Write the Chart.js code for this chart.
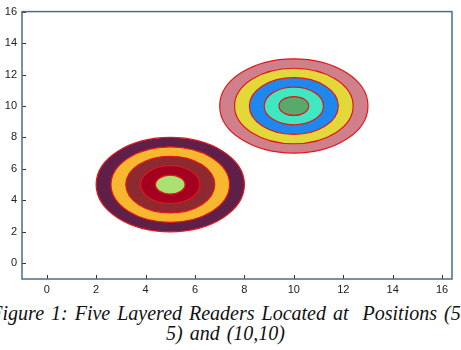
<!DOCTYPE html>
<html><head><meta charset="utf-8">
<script src="https://cdn.jsdelivr.net/npm/chart.js@4/dist/chart.umd.min.js"></script>
<style>
html,body{margin:0;padding:0;background:#fff;width:461px;height:350px;overflow:hidden;position:relative}
#wrap{position:absolute;left:0;top:0;width:461px;height:300px}
#cap{position:absolute;left:-60px;width:571px;top:303px;text-align:center;font-family:"Liberation Serif",serif;font-style:italic;font-size:20px;line-height:20px;word-spacing:2px;color:#111;white-space:nowrap}
</style></head><body>
<div id="wrap"><canvas id="c" width="461" height="300"></canvas></div>
<div id="cap">Figure 1: Five Layered Readers Located at&nbsp; Positions (5<br>5) and (10,10)</div>
<script>
// ---- data ----
const readerNames = ['Reader 1', 'Reader 2'];
const centerX = [5, 10];
const centerY = [5, 10];
const layerRadii = [3, 2.4, 1.8, 1.2, 0.6];
const tickValues = [0, 2, 4, 6, 8, 10, 12, 14, 16];
const tickLabels = ['0', '2', '4', '6', '8', '10', '12', '14', '16'];

// ---- styles ----
const layerColors = [
  ['#5e1f48', '#f7b82f', '#8c2a30', '#a30021', '#a9e272'],
  ['#d0808a', '#e2d83a', '#1f88ee', '#40e8c2', '#58aa6c']
];
const outlineColor = '#e3161c';
const frameColor = '#4b6b8b';

const ringsPlugin = {
  id: 'rings',
  beforeDatasetsDraw(chart) {
    const ctx = chart.ctx, xs = chart.scales.x, ys = chart.scales.y, a = chart.chartArea;
    ctx.save();
    ctx.beginPath(); ctx.rect(a.left, a.top, a.right - a.left, a.bottom - a.top); ctx.clip();
    chart.data.datasets.forEach((ds, i) => {
      const p = ds.data[0];
      const cx = xs.getPixelForValue(p.x), cy = ys.getPixelForValue(p.y);
      layerRadii.forEach((r, k) => {
        const rx = Math.abs(xs.getPixelForValue(p.x + r) - cx);
        const ry = Math.abs(ys.getPixelForValue(p.y + r) - cy);
        ctx.beginPath();
        ctx.ellipse(cx, cy, rx, ry, 0, 0, Math.PI * 2);
        ctx.fillStyle = layerColors[i][k];
        ctx.fill();
        ctx.lineWidth = 1.2;
        ctx.strokeStyle = outlineColor;
        ctx.stroke();
      });
    });
    ctx.restore();
  },
  afterDraw(chart) {
    const ctx = chart.ctx, xs = chart.scales.x, ys = chart.scales.y, a = chart.chartArea;
    ctx.save();
    ctx.strokeStyle = '#333';
    ctx.lineWidth = 1;
    xs.ticks.forEach(t => {
      const px = Math.round(xs.getPixelForValue(t.value)) + 0.5;
      ctx.beginPath(); ctx.moveTo(px, a.bottom); ctx.lineTo(px, a.bottom - 4); ctx.stroke();
    });
    ys.ticks.forEach(t => {
      const py = Math.round(ys.getPixelForValue(t.value)) + 0.5;
      ctx.beginPath(); ctx.moveTo(a.left, py); ctx.lineTo(a.left + 4, py); ctx.stroke();
    });
    ctx.strokeStyle = frameColor;
    ctx.lineWidth = 1.5;
    ctx.strokeRect(a.left, a.top, a.right - a.left, a.bottom - a.top);
    ctx.restore();
  }
};

const tickFont = { family: '"Liberation Sans", Arial, sans-serif', size: 11 };

new Chart(document.getElementById('c'), {
  type: 'scatter',
  data: {
    datasets: readerNames.map((n, i) => ({
      label: n,
      data: [{ x: centerX[i], y: centerY[i] }],
      pointRadius: 0,
      pointHoverRadius: 0
    }))
  },
  options: {
    responsive: false,
    devicePixelRatio: 1,
    animation: false,
    events: [],
    layout: { padding: { top: 9, right: 9, left: 0, bottom: 0 } },
    plugins: { legend: { display: false }, tooltip: { enabled: false }, title: { display: false } },
    scales: {
      x: {
        type: 'linear', min: -1, max: 16.4,
        afterBuildTicks: s => { s.ticks = tickValues.map(v => ({ value: v })); },
        afterFit: s => { s.height = 21; },
        ticks: { callback: v => tickLabels[tickValues.indexOf(v)], font: tickFont, color: '#222', padding: 4, maxRotation: 0, autoSkip: false },
        grid: { display: false, drawTicks: false, tickLength: 0 },
        border: { display: false }
      },
      y: {
        type: 'linear', min: -1, max: 16,
        afterBuildTicks: s => { s.ticks = tickValues.map(v => ({ value: v })); },
        afterFit: s => { s.width = 22; },
        ticks: { callback: v => tickLabels[tickValues.indexOf(v)], font: tickFont, color: '#222', padding: 5, autoSkip: false },
        grid: { display: false, drawTicks: false, tickLength: 0 },
        border: { display: false }
      }
    }
  },
  plugins: [ringsPlugin]
});
</script>
</body></html>
